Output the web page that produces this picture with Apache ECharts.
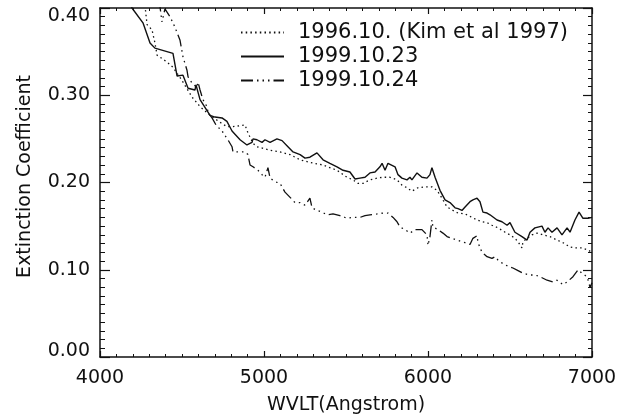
<!DOCTYPE html>
<html>
<head>
<meta charset="utf-8">
<script src="https://cdn.jsdelivr.net/npm/echarts@6/dist/echarts.min.js"></script>
<style>
html,body{margin:0;padding:0;background:#fff;}
#c{width:627px;height:419px;}
</style>
</head>
<body>
<div id="c"></div>
<script>
// ---- data ----
var seriesNames = ['1996.10. (Kim et al 1997)', '1999.10.23', '1999.10.24'];
var xTicks = [4000, 5000, 6000, 7000];
var yTicks = [0.00, 0.10, 0.20, 0.30, 0.40];

var kimX = [4274,4287,4317,4335,4348,4409,4445,4500,4561,4610,4671,4732,4774,4811,4884,4902,4933,4957,5037,5098,5159,5220,5280,5360,5445,5506,5543,5573,5604,5646,5689,5726,5768,5811,5841,5872,5902,5939,5982,6024,6055,6085,6116,6152,6183,6226,6268,6299,6329,6360,6390,6427,6470,6500,6530,6549,6573,6579,6604,6634,6665,6701,6744,6787,6823,6866,6896,6939,6970,7000];
var kimY = [0.403,0.381,0.375,0.360,0.346,0.338,0.332,0.317,0.298,0.287,0.277,0.269,0.264,0.264,0.266,0.257,0.245,0.241,0.237,0.235,0.232,0.226,0.223,0.220,0.214,0.206,0.203,0.199,0.199,0.203,0.205,0.206,0.206,0.203,0.197,0.194,0.190,0.194,0.195,0.195,0.191,0.182,0.172,0.168,0.165,0.164,0.160,0.157,0.155,0.154,0.151,0.148,0.143,0.140,0.136,0.132,0.125,0.132,0.136,0.140,0.142,0.140,0.138,0.134,0.131,0.126,0.125,0.125,0.123,0.120];

var d23X = [4183,4195,4262,4305,4335,4445,4470,4506,4537,4579,4585,4610,4671,4701,4744,4774,4805,4854,4896,4927,4933,4957,4963,4988,5006,5037,5079,5110,5146,5177,5220,5250,5280,5323,5360,5402,5445,5482,5524,5555,5585,5616,5646,5677,5707,5720,5738,5756,5768,5799,5817,5841,5872,5890,5902,5933,5963,5994,6012,6024,6043,6073,6104,6134,6165,6183,6207,6226,6256,6274,6299,6317,6335,6360,6378,6421,6451,6482,6500,6530,6573,6604,6622,6652,6695,6713,6732,6756,6787,6817,6848,6866,6896,6921,6945,6976,7000];
var d23Y = [0.406,0.400,0.383,0.360,0.354,0.348,0.322,0.323,0.308,0.306,0.312,0.295,0.277,0.275,0.274,0.270,0.259,0.249,0.243,0.246,0.250,0.249,0.251,0.246,0.249,0.246,0.250,0.248,0.241,0.235,0.232,0.228,0.229,0.234,0.226,0.222,0.218,0.214,0.212,0.204,0.205,0.206,0.211,0.212,0.218,0.222,0.214,0.222,0.223,0.218,0.209,0.205,0.203,0.206,0.203,0.211,0.206,0.205,0.209,0.217,0.206,0.191,0.180,0.177,0.171,0.170,0.168,0.172,0.178,0.180,0.182,0.178,0.166,0.165,0.163,0.157,0.155,0.151,0.154,0.143,0.138,0.134,0.143,0.148,0.150,0.143,0.148,0.143,0.148,0.140,0.148,0.143,0.157,0.166,0.159,0.159,0.160];

var d24X = [4348,4366,4378,4396,4427,4457,4488,4506,4530,4537,4561,4591,4598,4610,4628,4652,4659,4683,4713,4744,4750,4780,4805,4811,4884,4902,4915,4933,4963,4988,5006,5024,5037,5067,5098,5128,5159,5189,5220,5250,5280,5293,5323,5354,5384,5421,5463,5506,5543,5585,5616,5646,5689,5726,5756,5787,5811,5829,5860,5890,5921,5963,5994,6000,6012,6024,6030,6061,6091,6116,6146,6177,6207,6226,6256,6274,6299,6305,6329,6360,6390,6409,6427,6457,6488,6518,6549,6579,6622,6652,6683,6726,6762,6787,6823,6848,6884,6915,6939,6970,6988,7000];
var d24Y = [0.409,0.401,0.384,0.399,0.390,0.378,0.363,0.344,0.329,0.321,0.314,0.309,0.315,0.306,0.295,0.287,0.280,0.274,0.264,0.260,0.257,0.249,0.241,0.235,0.235,0.232,0.220,0.218,0.214,0.209,0.206,0.217,0.205,0.201,0.199,0.189,0.183,0.177,0.177,0.174,0.182,0.171,0.168,0.166,0.163,0.164,0.162,0.159,0.160,0.160,0.162,0.163,0.164,0.165,0.165,0.160,0.155,0.149,0.146,0.142,0.146,0.146,0.140,0.128,0.138,0.157,0.149,0.146,0.142,0.138,0.136,0.134,0.132,0.131,0.129,0.136,0.139,0.131,0.120,0.115,0.113,0.115,0.111,0.107,0.104,0.102,0.099,0.096,0.094,0.094,0.092,0.088,0.086,0.088,0.083,0.086,0.092,0.100,0.096,0.092,0.080,0.085];

function pairs(xs, ys){ return xs.map(function(x,i){ return [x, ys[i]]; }); }

var FONT = 'DejaVu Sans';
var INK = '#111';

var chart = echarts.init(document.getElementById('c'), null, {renderer:'canvas'});

function xAx(pos, show, major, minor){
  return {
    type:'value', position:pos, min:xTicks[0], max:xTicks[xTicks.length-1], interval:1000,
    axisLine:{show:true, onZero:false, lineStyle:{color:INK, width:1.5}},
    axisTick:{show:true, inside:true, length:major, lineStyle:{color:INK, width:1.2}},
    minorTick:{show:true, splitNumber:10, length:minor, lineStyle:{color:INK, width:1}},
    splitLine:{show:false},
    axisLabel:{show:show, margin:12, color:INK, fontSize:19, fontFamily:FONT,
      formatter:function(v){ return String(v); }},
    name: show ? 'WVLT(Angstrom)' : '', nameLocation:'middle', nameGap:39,
    nameTextStyle:{color:INK, fontSize:19, fontFamily:FONT}
  };
}
function yAx(pos, show, major, minor){
  return {
    type:'value', position:pos, min:yTicks[0], max:yTicks[yTicks.length-1], interval:0.1,
    axisLine:{show:true, onZero:false, lineStyle:{color:INK, width:1.5}},
    axisTick:{show:true, inside:true, length:major, lineStyle:{color:INK, width:1.2}},
    minorTick:{show:true, splitNumber:10, length:minor, lineStyle:{color:INK, width:1}},
    splitLine:{show:false},
    axisLabel:{show:show, margin:10, color:INK, fontSize:19, fontFamily:FONT,
      formatter:function(v){
        var s = v.toFixed(2);
        if (Math.abs(v - 0.4) < 1e-9) return '{t|' + s + '}';
        if (Math.abs(v) < 1e-9) return '{b|' + s + '}';
        return s;
      },
      rich:{
        t:{fontSize:19, fontFamily:FONT, color:INK, padding:[16,0,0,0]},
        b:{fontSize:19, fontFamily:FONT, color:INK, padding:[0,0,12,0]}
      }},
    name: show ? 'Extinction Coefficient' : '', nameLocation:'middle', nameGap:65, nameRotate:90,
    nameTextStyle:{color:INK, fontSize:19, fontFamily:FONT, padding:[0,0,0,12]}
  };
}

chart.setOption({
  animation:false,
  backgroundColor:'#fff',
  grid:{left:100, right:35, top:8, bottom:62, containLabel:false, outerBoundsMode:'none'},
  legend:{
    orient:'vertical', left:240, top:22, padding:0, itemWidth:43, itemHeight:14, itemGap:3,
    data:seriesNames, selectedMode:false,
    itemStyle:{opacity:0},
    textStyle:{color:INK, fontSize:21, fontFamily:FONT, padding:[0,0,0,9]}
  },
  xAxis:[xAx('bottom', true, 6, 3), xAx('top', false, 6, 3)],
  yAxis:[yAx('left', true, 10, 5), yAx('right', false, 9, 4)],
  series:[
    {name:seriesNames[0], type:'line', xAxisIndex:0, yAxisIndex:0, symbol:'none', clip:true,
     data:pairs(kimX, kimY), color:INK,
     lineStyle:{color:INK, width:1.3, type:[1.5,3.2]}},
    {name:seriesNames[1], type:'line', xAxisIndex:0, yAxisIndex:0, symbol:'none', clip:true,
     data:pairs(d23X, d23Y), color:INK,
     lineStyle:{color:INK, width:1.4, type:'solid'}},
    {name:seriesNames[2], type:'line', xAxisIndex:0, yAxisIndex:0, symbol:'none', clip:true,
     data:pairs(d24X, d24Y), color:INK,
     lineStyle:{color:INK, width:1.3, type:[12,4,1.5,4,1.5,4,1.5,4]}}
  ]
});
</script>
</body>
</html>
